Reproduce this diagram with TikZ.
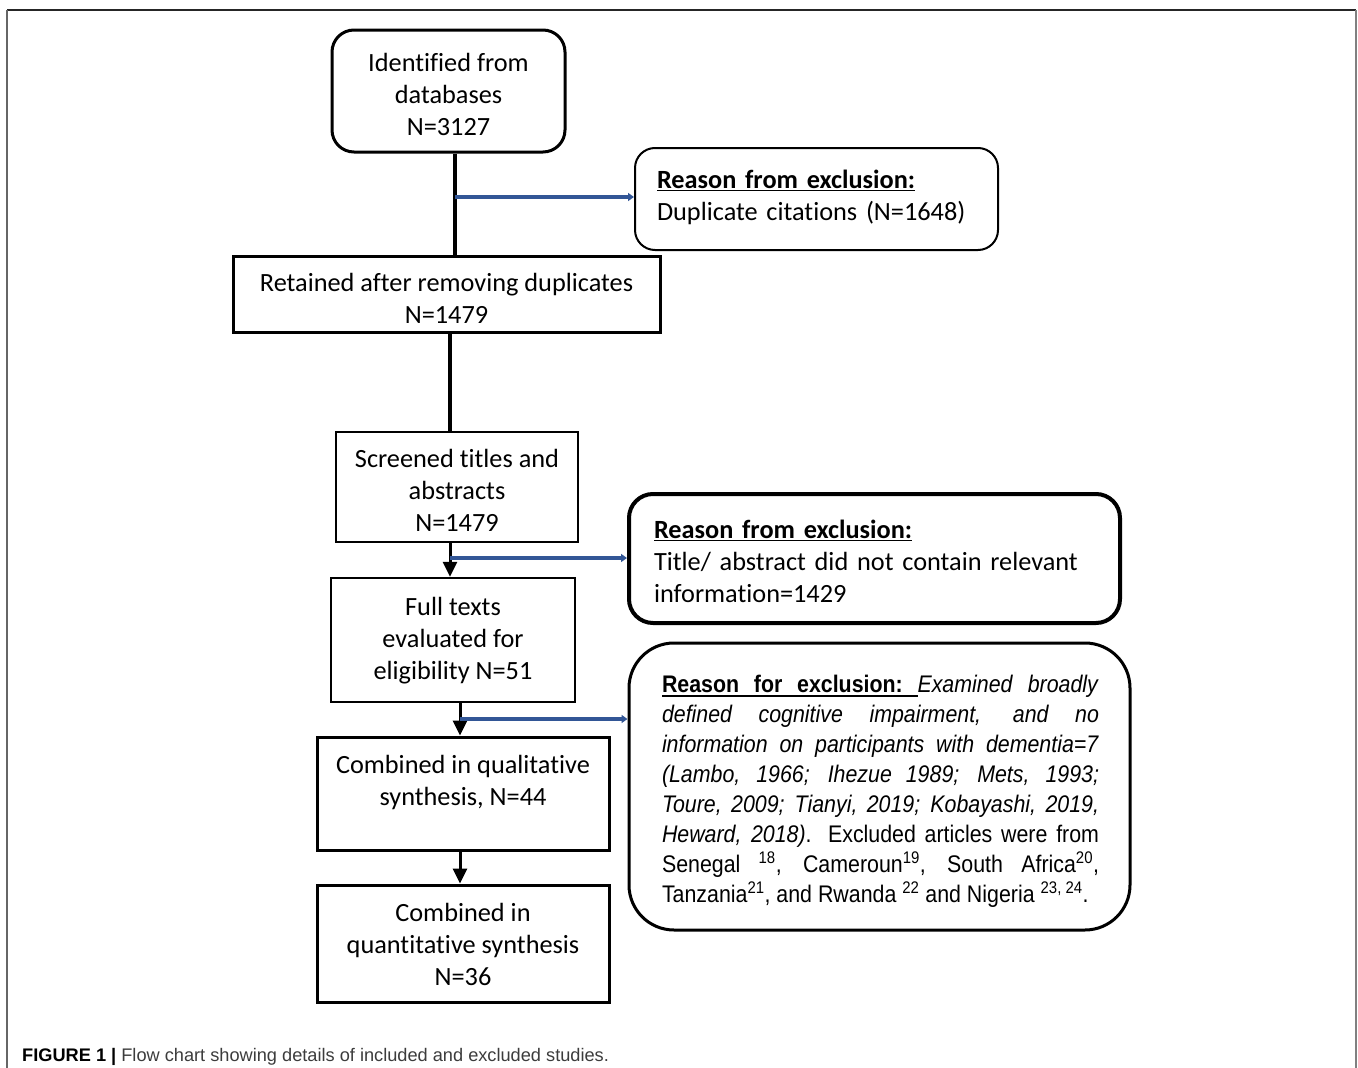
\documentclass[tikz,border=0pt]{standalone}
\usepackage{fontspec}
\setmainfont{Carlito}[Ligatures=NoCommon]
\newfontfamily\narrowfont{Liberation Sans}[FakeStretch=0.89]
\newfontfamily\capfont{Liberation Sans}
\usetikzlibrary{arrows.meta,calc}
\definecolor{arrowblue}{RGB}{50,86,150}
\definecolor{capgray}{RGB}{60,60,60}
\newcommand{\ulbox}[1]{\setbox0\hbox{#1}\rlap{\vrule height -2.5pt depth 4pt width \wd0}\box0}
\newcommand{\ulgap}{\leaders\hrule height -2.5pt depth 4pt\hskip 0.3em plus 1fil\relax}
\newcommand{\plaingap}{\hskip 0.3em plus 1fil\relax}
\begin{document}
\begin{tikzpicture}[x=1pt,y=-1pt,
  mainfont/.style={font=\fontsize{26.3}{32}\selectfont},
  flowbox/.style={draw, line width=3pt, inner sep=0pt},
  roundbox/.style={flowbox, rounded corners=22pt},
  exclbox/.style={draw, rounded corners=20pt, inner sep=0pt},
  boxtext/.style={align=center, inner sep=0pt, mainfont},
  excltext/.style={align=left, inner sep=0pt, mainfont},
  flowline/.style={line width=4pt},
  flowarrow/.style={line width=3pt, -{Triangle[length=15pt,width=14pt]}},
  bluearrow/.style={line width=4pt, draw=arrowblue, -{Triangle[length=6pt,width=8pt]}}
]
\useasboundingbox (0,0) rectangle (1358,1068);
% frame
\draw[line width=1.5pt, black!85] (7,10) -- (1356,10);
\draw[line width=1.5pt, black!60] (7,10) -- (7,1068);
\draw[line width=2.5pt, black!50] (1356,10) -- (1356,1068);

% main flow boxes
\node[roundbox, minimum width=233pt, minimum height=122pt] (b1) at (448.5,91) {};
\node[boxtext] (b1t) at ($(b1.center)+(0,3)$) {Identified from\\databases\\N=3127};
\node[flowbox, minimum width=427pt, minimum height=76pt] (b3) at (446.5,294) {};
\node[boxtext] (b3t) at ($(b3.center)+(0,4)$) {Retained after removing duplicates\\N=1479};
\node[flowbox, line width=2.5pt, minimum width=242pt, minimum height=110pt] (b4) at (457,487) {};
\node[boxtext] (b4t) at ($(b4.center)+(0,3)$) {Screened titles and\\abstracts\\N=1479};
\node[flowbox, line width=2.5pt, minimum width=244pt, minimum height=124pt] (b5) at (453,640) {};
\node[boxtext] (b5t) at ($(b5.center)+(0,1)$) {Full texts\\evaluated for\\eligibility N=51};
\node[flowbox, minimum width=292pt, minimum height=113pt] (b6) at (463,793.5) {};
\node[boxtext] (b6t) at ($(b6.center)+(0,-11.5)$) {Combined in qualitative\\synthesis, N=44};
\node[flowbox, minimum width=292pt, minimum height=117pt] (b7) at (463,943.5) {};
\node[boxtext] (b7t) at ($(b7.center)+(0,1)$) {Combined in\\quantitative synthesis\\N=36};

% exclusion boxes
\node[exclbox, line width=2pt, minimum width=363pt, minimum height=102pt] (e1) at (816.5,199) {};
\node[excltext, text width=319pt] (e1t) at ($(e1.center)+(0,-2)$)
  {\underline{\textbf{Reason from exclusion:}}\\Duplicate citations (N=1648)};
\node[exclbox, line width=4pt, rounded corners=24pt, minimum width=491pt, minimum height=129pt] (e2) at (874.5,558.5) {};
\node[excltext, text width=441pt] (e2t) at ($(e2.center)+(0,3)$)
  {\underline{\textbf{Reason from exclusion:}}\\Title/ abstract did not contain relevant\\information=1429};
\node[exclbox, line width=3pt, rounded corners=45pt, minimum width=501pt, minimum height=287pt] (e3) at (879.5,786.5) {};
\node[inner sep=0pt, text width=437pt, align=justify, font=\narrowfont\fontsize{24}{30}\selectfont] (e3t) at ($(e3.center)+(1,5)$)
  {\tolerance=9999\hbadness=10000
   \noindent\hbox to \linewidth{\ulbox{\textbf{Reason}}\ulgap\ulbox{\textbf{for}}\ulgap\ulbox{\textbf{exclusion:}}\ulgap\textit{Examined}\plaingap\textit{broadly}}\par
   \noindent\textit{defined cognitive impairment, and no}\linebreak
   \textit{information on participants with dementia=7}\linebreak
   \textit{(Lambo, 1966; Ihezue 1989; Mets, 1993;}\linebreak
   \textit{Toure, 2009; Tianyi, 2019; Kobayashi, 2019,}\linebreak
   \textit{Heward, 2018)}. Excluded articles were from\linebreak
   Senegal \textsuperscript{18}, Cameroun\textsuperscript{19}, South Africa\textsuperscript{20},\linebreak
   Tanzania\textsuperscript{21}, and Rwanda \textsuperscript{22} and Nigeria \textsuperscript{23, 24}.};

% connector helper coordinates
\coordinate (x1) at (455,0);
\coordinate (x2) at (450,0);
\coordinate (x3) at (460,0);
\coordinate (j1) at (455,197);
\coordinate (j2) at (450,558);
\coordinate (j3) at (460,719);

% connectors
\draw[flowline] (x1 |- b1.south) -- (x1 |- b3.north);
\draw[flowline] (x2 |- b3.south) -- (x2 |- b4.north);
\draw[flowarrow] (x2 |- b4.south) -- (x2 |- b5.north);
\draw[flowarrow] (x3 |- b5.south) -- (x3 |- b6.north);
\draw[flowarrow] (x3 |- b6.south) -- (x3 |- b7.north);
\draw[bluearrow] (j1) -- (j1 -| e1.west);
\draw[bluearrow] (j2) -- (j2 -| e2.west);
\draw[bluearrow] (j3) -- (j3 -| e3.west);

% caption
\node[anchor=base west, inner sep=0pt, font=\capfont\fontsize{18.2}{21}\selectfont] (cap) at (22,1061)
  {\textbf{FIGURE 1 |} \textcolor{capgray}{Flow chart showing details of included and excluded studies.}};
\end{tikzpicture}
\end{document}
